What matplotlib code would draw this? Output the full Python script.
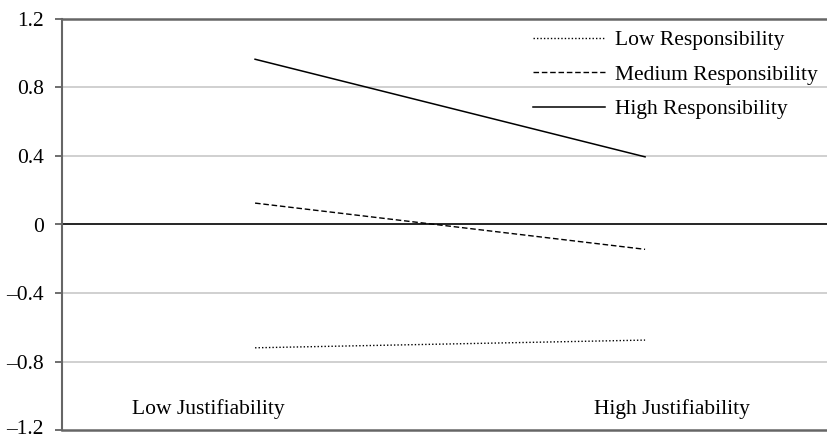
import numpy as np
import matplotlib
matplotlib.use("Agg")
import matplotlib.pyplot as plt
import matplotlib.transforms as mtransforms

plt.rcParams['font.family'] = ['Liberation Serif', 'DejaVu Serif']

categories = ["Low Justifiability", "High Justifiability"]
series_names = ["Low Responsibility", "Medium Responsibility", "High Responsibility"]
low_resp = [-0.72, -0.675]
med_resp = [0.125, -0.145]
high_resp = [0.965, 0.395]
yticks = [-1.2, -0.8, -0.4, 0, 0.4, 0.8, 1.2]
ytick_labels = ["\u20131.2", "\u20130.8", "\u20130.4", "0", "0.4", "0.8", "1.2"]

fs = 15.5

fig = plt.figure(figsize=(8.28, 4.4), dpi=100)
ax = fig.add_axes([62/828, 1 - 430/440, 1 - 62/828, 411/440])

x = np.array([0, 1])
ax.plot(x, low_resp, color="black", lw=1.0, ls=(0, (1, 1.5)), label=series_names[0])
ax.plot(x, med_resp, color="black", lw=1.0, ls=(0, (4, 2)), label=series_names[1])
ax.plot(x, high_resp, color="black", lw=1.1, ls="-", label=series_names[2])

ax.set_xlim(-0.495, 1.469)
ax.set_ylim(-1.2, 1.2)

for t in yticks:
    if t == 0:
        ax.axhline(t, color="black", lw=1.2, zorder=1)
    elif abs(t) == 1.2:
        pass
    else:
        ax.axhline(t, color="#c8c8c8", lw=1.2, zorder=0)

ax.set_yticks(yticks)
ax.set_yticklabels(ytick_labels, fontsize=fs)
ax.set_xticks([])
ax.tick_params(axis="y", direction="out", length=5, width=1.2, color="#555555", pad=8)

# keep the bottom label inside the picture
lbl = ax.get_yticklabels()[0]
lbl.set_transform(lbl.get_transform() + mtransforms.ScaledTranslation(0, 3/100, fig.dpi_scale_trans))

for s in ["left", "top", "bottom"]:
    ax.spines[s].set_color("#666666")
    ax.spines[s].set_linewidth(1.8)
ax.spines["left"].set_linewidth(1.5)
ax.spines["right"].set_visible(False)

ax.text(-0.12, -1.075, categories[0], ha="center", va="center", fontsize=fs)
ax.text(1.069, -1.075, categories[1], ha="center", va="center", fontsize=fs)

leg = ax.legend(loc="upper left", bbox_to_anchor=(533/828, 1 - 30/440),
                bbox_transform=fig.transFigure, frameon=False, borderpad=0,
                borderaxespad=0, fontsize=fs, handlelength=3.35,
                handletextpad=0.45, labelspacing=0.68)

fig.savefig("out.png", dpi=100)
